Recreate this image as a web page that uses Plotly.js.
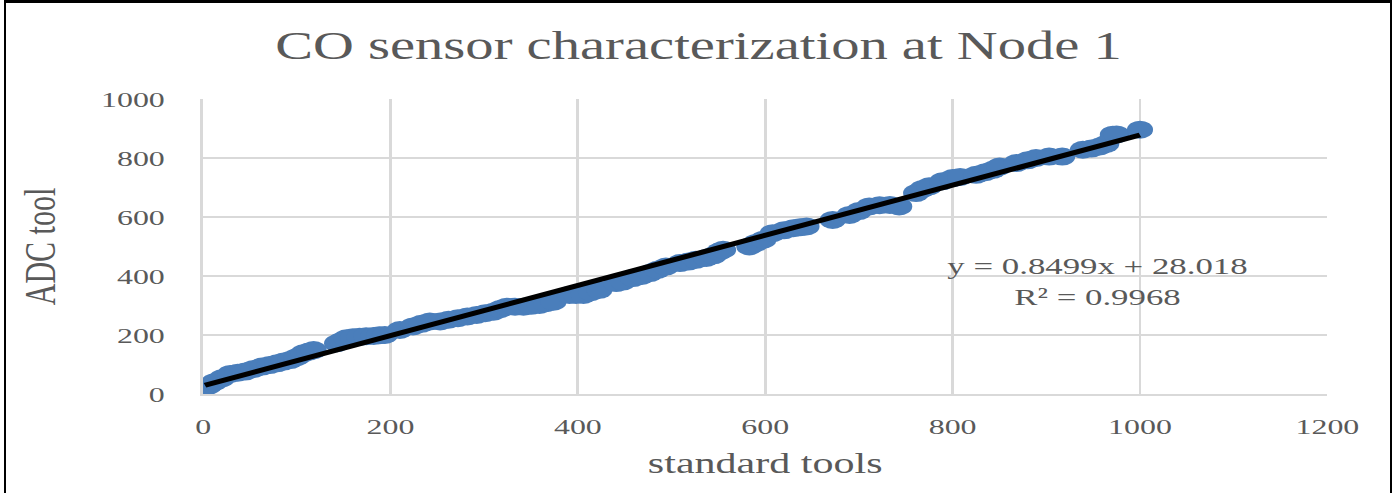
<!DOCTYPE html>
<html><head><meta charset="utf-8">
<script src="https://cdn.plot.ly/plotly-3.0.1.min.js"></script>
<style>
html,body{margin:0;padding:0;overflow:hidden;background:#fff;}
#wrap{position:relative;width:1397px;height:493px;overflow:hidden;background:#fff;}
#chart{position:absolute;left:0;top:0;width:963px;height:493px;transform:scaleX(1.4507);transform-origin:0 0;}
#frame{position:absolute;left:4px;top:0;width:1388px;height:500px;border-top:3px solid #000;border-left:2px solid #000;border-right:2px solid #000;box-sizing:border-box;pointer-events:none;}
</style></head>
<body>
<div id="wrap"><div id="chart"></div><div id="frame"></div></div>
<script>
const chartTitle = "CO sensor characterization at Node 1";
const xTitle = "standard tools";
const yTitle = "ADC tool";
const xTickVals = [0, 200, 400, 600, 800, 1000, 1200];
const yTickVals = [0, 200, 400, 600, 800, 1000];
const standardTools = [2,6,12,20,29,37,45,54,63,71,79,86,93,100,107,113,118,143,148,153,160,167,174,182,188,194,210,224,233,242,253,262,272,282,292,301,310,317,324,333,342,350,359,366,374,391,398,406,414,423,441,448,459,468,477,485,494,509,518,526,537,545,551,555,583,590,598,608,620,630,637,644,672,690,700,711,722,733,743,761,768,775,789,800,808,825,835,843,850,868,880,889,903,917,939,948,957,964,971,975,1000];
const adcTool = [24,28,40,53,68,72,76,85,93,98,104,110,115,125,138,144,149,172,180,189,192,194,196,197,199,200,217,229,238,246,246,252,257,263,268,274,279,288,296,296,296,299,302,308,313,336,336,336,345,353,376,381,393,400,410,421,432,444,449,455,461,470,483,489,500,512,523,545,555,562,565,568,590,607,620,636,640,641,636,681,695,704,721,732,736,743,752,760,771,783,792,800,805,805,828,832,839,848,879,880,896];
const trendSlope = 0.8499;
const trendIntercept = 28.018;
const rSquared = 0.9968;

const xMin = Math.min(...standardTools), xMax = Math.max(...standardTools);
const trendX = [xMin, xMax];
const trendY = trendX.map(v => trendSlope * v + trendIntercept);

const serif = "Liberation Serif, Times New Roman, serif";
const grey = "#595959";

const traces = [
  {x: standardTools, y: adcTool, type: 'scatter', mode: 'markers',
   marker: {color: '#4a7ebb', size: 18, line: {width: 0}}, hoverinfo: 'x+y'},
  {x: trendX, y: trendY, type: 'scatter', mode: 'lines',
   line: {color: '#000000', width: 5}, hoverinfo: 'skip'}
];

const layout = {
  width: 963, height: 493,
  margin: {l: 140, r: 48, t: 99, b: 99},
  paper_bgcolor: '#ffffff', plot_bgcolor: '#ffffff',
  showlegend: false,
  font: {family: serif, color: grey},
  title: {text: chartTitle, font: {family: serif, size: 39, color: grey},
          x: 0.5, xanchor: 'center', xref: 'container', y: 0.909, yanchor: 'middle', yref: 'container'},
  xaxis: {range: [0, 1200], tickvals: xTickVals, ticktext: xTickVals.map(String),
          showgrid: true, gridcolor: '#d9d9d9', gridwidth: 2,
          showline: true, linecolor: '#d9d9d9', linewidth: 2, zeroline: false,
          ticks: 'outside', ticklen: 12, tickcolor: 'rgba(0,0,0,0)',
          tickfont: {family: serif, size: 22, color: grey},
          title: {text: xTitle, font: {family: serif, size: 29, color: grey}, standoff: 14}},
  yaxis: {range: [0, 1000], tickvals: yTickVals, ticktext: yTickVals.map(String),
          showgrid: true, gridcolor: '#d9d9d9', gridwidth: 2,
          showline: true, linecolor: '#d9d9d9', linewidth: 2, zeroline: false,
          ticks: 'outside', ticklen: 20, tickcolor: 'rgba(0,0,0,0)',
          tickfont: {family: serif, size: 22, color: grey},
          title: {text: yTitle, font: {family: serif, size: 30, color: grey}, standoff: 22}},
  annotations: [{
    x: 955, y: 382, xref: 'x', yref: 'y', showarrow: false,
    text: 'y = ' + trendSlope + 'x + ' + trendIntercept + '<br>R² = ' + rSquared,
    align: 'center', font: {family: serif, size: 24, color: grey}
  }]
};

Plotly.newPlot('chart', traces, layout, {displayModeBar: false, staticPlot: true});
</script>
</body></html>
